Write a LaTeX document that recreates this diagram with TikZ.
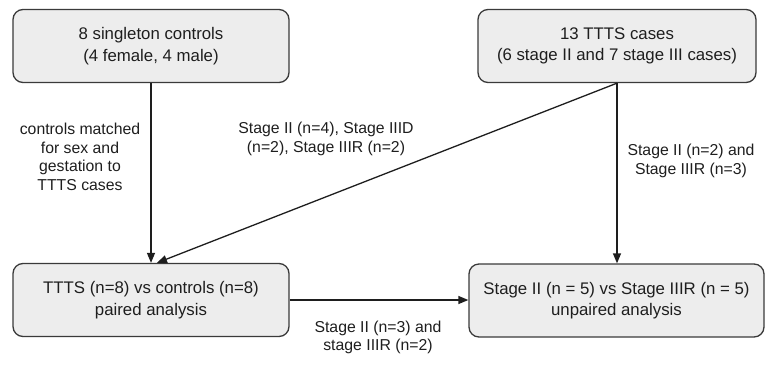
\documentclass[tikz,border=0pt]{standalone}
\usepackage{fontspec}
\setmainfont{Liberation Sans}
\usepackage{tikz}
\usetikzlibrary{arrows.meta}
\usetikzlibrary{positioning}

\definecolor{boxfill}{HTML}{EDEDED}
\definecolor{boxline}{HTML}{3A3A3A}
\definecolor{arrowline}{HTML}{1E1E1E}

\tikzset{
  box/.style={draw=boxline, line width=1.3pt, fill=boxfill, rounded corners=10pt,
    align=center, inner sep=0pt, minimum height=73pt,
    font=\fontsize{16.8}{21.5}\selectfont, text=arrowline},
  flow/.style={draw=arrowline, line width=1.3pt, -{Triangle[length=10pt,width=8pt]}},
  note/.style={align=center, inner sep=0pt, font=\fontsize{15.8}{18.5}\selectfont, text=arrowline}
}

\begin{document}
\begin{tikzpicture}[x=1pt, y=-1pt]
  % Fix the page to the size of the reference
  \useasboundingbox (0,0) rectangle (766,365);

  % Draw the boxes
  \node[box, minimum width=276pt] (controls) at (151,46) {8 singleton controls\\(4 female, 4 male)};
  \node[box, minimum width=278pt] (cases) at (617,46) {13 TTTS cases\\(6 stage II and 7 stage III cases)};
  \node[box, minimum width=276pt] (paired) at (151,300) {TTTS (n=8) vs controls (n=8)\\paired analysis};
  \node[box, minimum width=295pt] (unpaired) at (616.5,300.5) {Stage II (n = 5) vs Stage IIIR (n = 5)\\unpaired analysis};

  % Draw the arrows
  \draw[flow] (controls) -- (paired);
  \draw[flow] (cases.south) -- ([xshift=6pt]paired.north);
  \draw[flow] (cases.south) -- (cases.south |- unpaired.north);
  \draw[flow] (paired.east) -- (paired.east -| unpaired.west);

  % Label the arrows
  \node[note] (matchnote) at (80,157) {controls matched\\for sex and\\gestation to\\TTTS cases};
  \node[note] (pairnote) at (326,139) {Stage II (n=4), Stage IIID\\(n=2), Stage IIIR (n=2)};
  \node[note] (casenote) at (691,161) {Stage II (n=2) and\\Stage IIIR (n=3)};
  \node[note] (movenote) at (378,337.5) {Stage II (n=3) and\\stage IIIR (n=2)};
\end{tikzpicture}
\end{document}
